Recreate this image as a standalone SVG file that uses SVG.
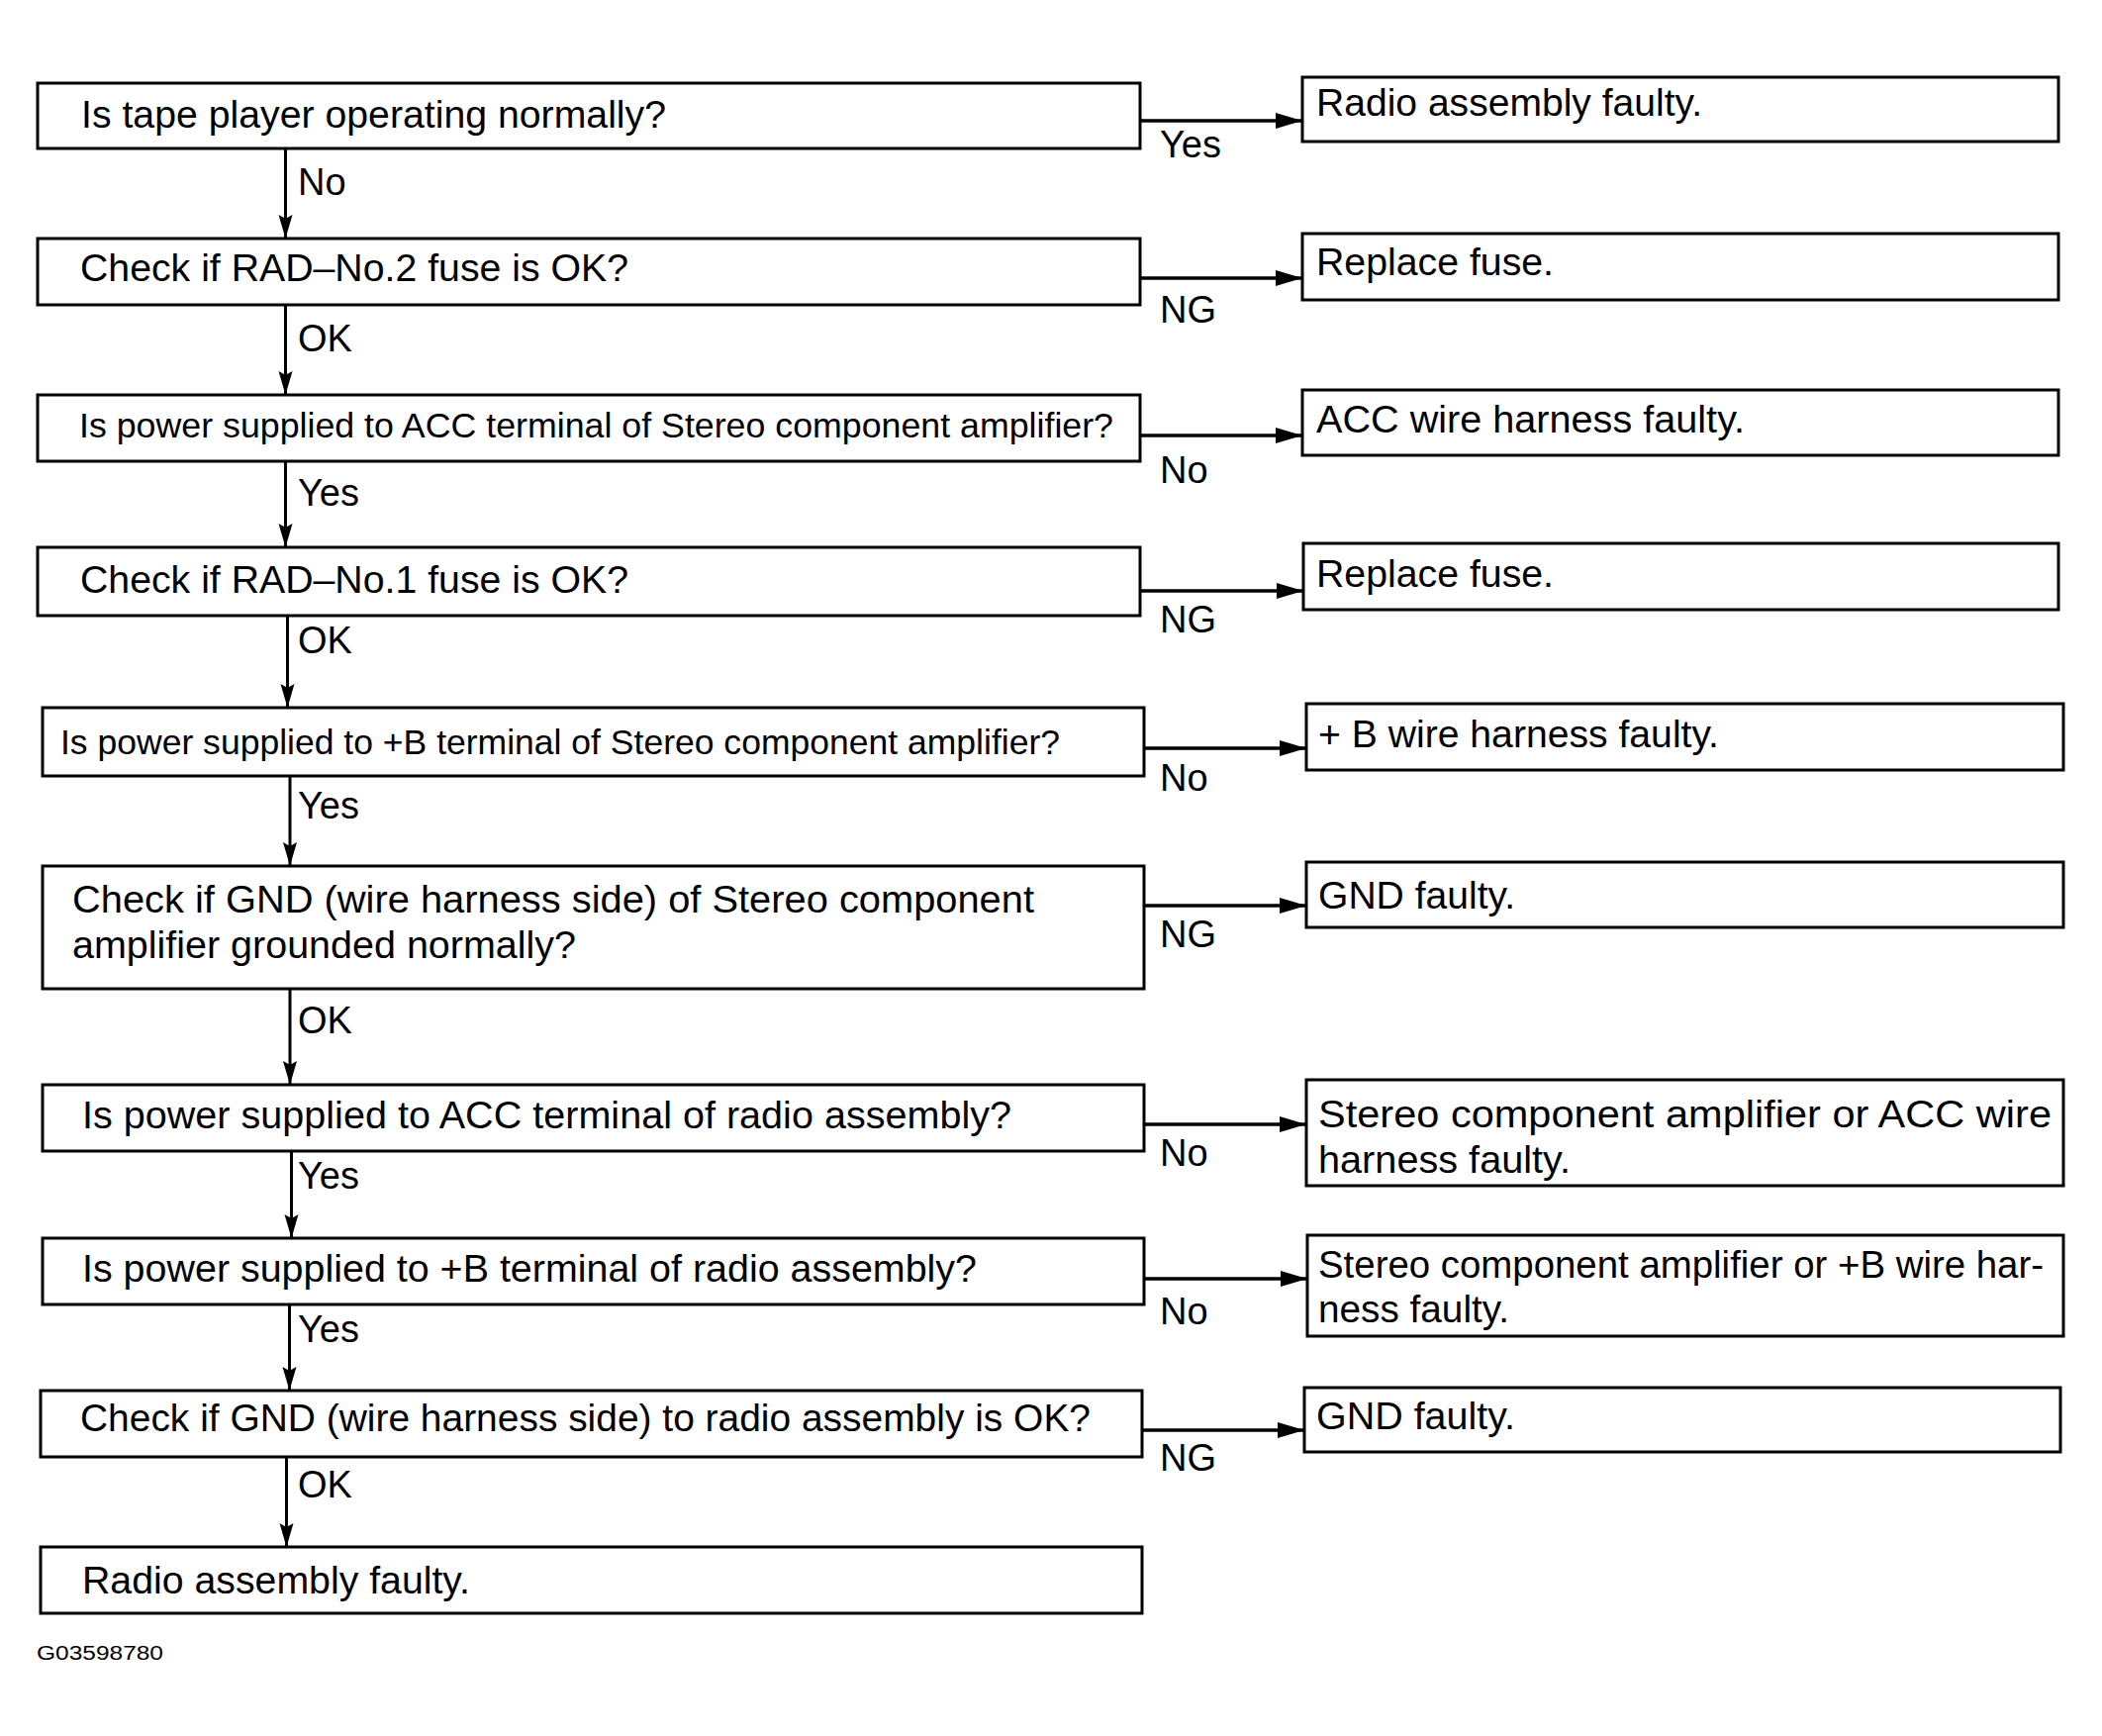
<svg xmlns="http://www.w3.org/2000/svg" width="2124" height="1754" viewBox="0 0 2124 1754">
<style>
.box{fill:#fff;stroke:#000;stroke-width:3}
.t{font-family:"Liberation Sans",Arial,sans-serif;font-size:38px;fill:#000}
.s{font-size:35px}
.lbl{font-family:"Liberation Sans",Arial,sans-serif;font-size:38px;fill:#000}
.v{stroke:#000;stroke-width:3;fill:none}
.h{stroke:#000;stroke-width:3.5;fill:none}
.foot{font-family:"Liberation Sans",Arial,sans-serif;font-size:20px;fill:#000}
</style>
<defs>
<marker id="av" markerUnits="userSpaceOnUse" markerWidth="24" markerHeight="15" refX="24" refY="7.5" orient="auto" viewBox="0 0 24 15">
<path d="M0,0.5 L24,7.5 L0,14.5 L4,7.5 Z" fill="#000"/>
</marker>
<marker id="ah" markerUnits="userSpaceOnUse" markerWidth="27" markerHeight="16" refX="27" refY="8" orient="auto" viewBox="0 0 27 16">
<path d="M0,0 L27,8 L0,16 Z" fill="#000"/>
</marker>
</defs>
<rect width="2124" height="1754" fill="#fff"/>

<g id="q1"><rect class="box" x="38" y="84" width="1114" height="66"/><text class="t" x="82" y="129" textLength="591" lengthAdjust="spacingAndGlyphs">Is tape player operating normally?</text></g>
<g id="q2"><rect class="box" x="38" y="241" width="1114" height="67"/><text class="t" x="81" y="284" textLength="554" lengthAdjust="spacingAndGlyphs">Check if RAD–No.2 fuse is OK?</text></g>
<g id="q3"><rect class="box" x="38" y="399" width="1114" height="67"/><text class="t s" x="80" y="442" textLength="1045" lengthAdjust="spacingAndGlyphs">Is power supplied to ACC terminal of Stereo component amplifier?</text></g>
<g id="q4"><rect class="box" x="38" y="553" width="1114" height="69"/><text class="t" x="81" y="599" textLength="554" lengthAdjust="spacingAndGlyphs">Check if RAD–No.1 fuse is OK?</text></g>
<g id="q5"><rect class="box" x="43" y="715" width="1113" height="69"/><text class="t s" x="61" y="762" textLength="1010" lengthAdjust="spacingAndGlyphs">Is power supplied to +B terminal of Stereo component amplifier?</text></g>
<g id="q6"><rect class="box" x="43" y="875" width="1113" height="124"/><text class="t" x="73" y="922" textLength="972" lengthAdjust="spacingAndGlyphs">Check if GND (wire harness side) of Stereo component</text><text class="t" x="73" y="968" textLength="509" lengthAdjust="spacingAndGlyphs">amplifier grounded normally?</text></g>
<g id="q7"><rect class="box" x="43" y="1096" width="1113" height="67"/><text class="t" x="83" y="1140" textLength="939" lengthAdjust="spacingAndGlyphs">Is power supplied to ACC terminal of radio assembly?</text></g>
<g id="q8"><rect class="box" x="43" y="1251" width="1113" height="67"/><text class="t" x="83" y="1295" textLength="904" lengthAdjust="spacingAndGlyphs">Is power supplied to +B terminal of radio assembly?</text></g>
<g id="q9"><rect class="box" x="41" y="1405" width="1113" height="67"/><text class="t" x="81" y="1446" textLength="1021" lengthAdjust="spacingAndGlyphs">Check if GND (wire harness side) to radio assembly is OK?</text></g>
<g id="q10"><rect class="box" x="41" y="1563" width="1113" height="67"/><text class="t" x="83" y="1610" textLength="392" lengthAdjust="spacingAndGlyphs">Radio assembly faulty.</text></g>

<g id="r1"><rect class="box" x="1316" y="78" width="764" height="65"/><text class="t" x="1330" y="117" textLength="390" lengthAdjust="spacingAndGlyphs">Radio assembly faulty.</text></g>
<g id="r2"><rect class="box" x="1316" y="236" width="764" height="67"/><text class="t" x="1330" y="278" textLength="240" lengthAdjust="spacingAndGlyphs">Replace fuse.</text></g>
<g id="r3"><rect class="box" x="1316" y="394" width="764" height="66"/><text class="t" x="1330" y="437" textLength="433" lengthAdjust="spacingAndGlyphs">ACC wire harness faulty.</text></g>
<g id="r4"><rect class="box" x="1317" y="549" width="763" height="67"/><text class="t" x="1330" y="593" textLength="240" lengthAdjust="spacingAndGlyphs">Replace fuse.</text></g>
<g id="r5"><rect class="box" x="1320" y="711" width="765" height="67"/><text class="t" x="1332" y="755" textLength="405" lengthAdjust="spacingAndGlyphs">+ B wire harness faulty.</text></g>
<g id="r6"><rect class="box" x="1320" y="871" width="765" height="66"/><text class="t" x="1332" y="918" textLength="199" lengthAdjust="spacingAndGlyphs">GND faulty.</text></g>
<g id="r7"><rect class="box" x="1320" y="1091" width="765" height="107"/><text class="t" x="1332" y="1139" textLength="741" lengthAdjust="spacingAndGlyphs">Stereo component amplifier or ACC wire</text><text class="t" x="1332" y="1185" textLength="255" lengthAdjust="spacingAndGlyphs">harness faulty.</text></g>
<g id="r8"><rect class="box" x="1321" y="1248" width="764" height="102"/><text class="t" x="1332" y="1291" textLength="733" lengthAdjust="spacingAndGlyphs">Stereo component amplifier or +B wire har-</text><text class="t" x="1332" y="1336" textLength="193" lengthAdjust="spacingAndGlyphs">ness faulty.</text></g>
<g id="r9"><rect class="box" x="1318" y="1402" width="764" height="65"/><text class="t" x="1330" y="1444" textLength="201" lengthAdjust="spacingAndGlyphs">GND faulty.</text></g>

<g id="connectors">
<path class="v" d="M288.5,150 V241" marker-end="url(#av)"/>
<path class="v" d="M288.5,308 V399" marker-end="url(#av)"/>
<path class="v" d="M288.5,466 V553" marker-end="url(#av)"/>
<path class="v" d="M290.5,622 V715" marker-end="url(#av)"/>
<path class="v" d="M293,784 V875" marker-end="url(#av)"/>
<path class="v" d="M293,999 V1096" marker-end="url(#av)"/>
<path class="v" d="M294.5,1163 V1251" marker-end="url(#av)"/>
<path class="v" d="M292.5,1318 V1405" marker-end="url(#av)"/>
<path class="v" d="M289.5,1472 V1563" marker-end="url(#av)"/>

<path class="h" d="M1152,122 H1316" marker-end="url(#ah)"/>
<path class="h" d="M1152,281 H1316" marker-end="url(#ah)"/>
<path class="h" d="M1152,440 H1316" marker-end="url(#ah)"/>
<path class="h" d="M1152,597 H1317" marker-end="url(#ah)"/>
<path class="h" d="M1156,756 H1320" marker-end="url(#ah)"/>
<path class="h" d="M1156,915 H1320" marker-end="url(#ah)"/>
<path class="h" d="M1156,1136 H1320" marker-end="url(#ah)"/>
<path class="h" d="M1156,1292 H1321" marker-end="url(#ah)"/>
<path class="h" d="M1154,1445 H1318" marker-end="url(#ah)"/>

<text class="lbl" x="301" y="197">No</text>
<text class="lbl" x="301" y="355">OK</text>
<text class="lbl" x="301" y="511">Yes</text>
<text class="lbl" x="301" y="660">OK</text>
<text class="lbl" x="301" y="827">Yes</text>
<text class="lbl" x="301" y="1044">OK</text>
<text class="lbl" x="301" y="1201">Yes</text>
<text class="lbl" x="301" y="1356">Yes</text>
<text class="lbl" x="301" y="1513">OK</text>

<text class="lbl" x="1172" y="159">Yes</text>
<text class="lbl" x="1172" y="326">NG</text>
<text class="lbl" x="1172" y="488">No</text>
<text class="lbl" x="1172" y="639">NG</text>
<text class="lbl" x="1172" y="799">No</text>
<text class="lbl" x="1172" y="957">NG</text>
<text class="lbl" x="1172" y="1178">No</text>
<text class="lbl" x="1172" y="1338">No</text>
<text class="lbl" x="1172" y="1486">NG</text>
</g>

<text class="foot" x="37" y="1677" textLength="128" lengthAdjust="spacingAndGlyphs">G03598780</text>
</svg>
